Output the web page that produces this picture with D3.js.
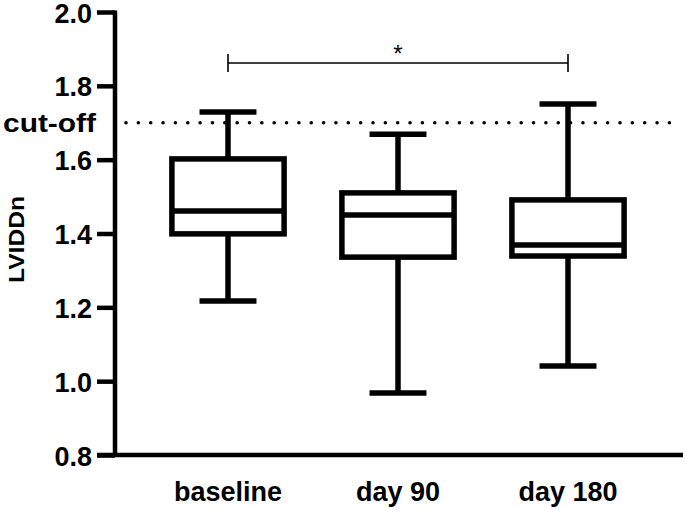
<!DOCTYPE html>
<html>
<head>
<meta charset="utf-8">
<script src="https://cdn.jsdelivr.net/npm/d3@7"></script>
<style>
  html, body { margin: 0; padding: 0; background: #fff; }
  svg { display: block; }
  text { font-family: "Liberation Sans", Arial, sans-serif; }
</style>
</head>
<body>
<div id="chart"></div>
<script>
// ---- data ----
const categories = ["baseline", "day 90", "day 180"];
const whiskerMin = [1.217, 0.968, 1.041];
const q1         = [1.399, 1.336, 1.339];
const median     = [1.461, 1.450, 1.369];
const q3         = [1.602, 1.510, 1.491];
const whiskerMax = [1.729, 1.669, 1.751];
const yTicks = [0.8, 1.0, 1.2, 1.4, 1.6, 1.8, 2.0];
const cutoffValue = 1.70;
const cutoffLabel = "cut-off";
const sigPair = ["baseline", "day 180"];
const sigValue = 1.862;
const sigLabel = "*";
const yLabel = "LVIDDn";

// ---- layout ----
const W = 685, H = 510;
const svg = d3.select("#chart").append("svg").attr("width", W).attr("height", H);

const y = d3.scaleLinear().domain([0.8, 2.0]).range([455, 12]);
const x = d3.scaleBand().domain(categories).range([143, 653]).padding(0);
const cx = c => x(c) + x.bandwidth() / 2;
const boxW = x.bandwidth() * 0.66;
const capW = x.bandwidth() * 0.335;

// x axis line
svg.append("line")
  .attr("x1", 97).attr("x2", 683)
  .attr("y1", y(0.8)).attr("y2", y(0.8))
  .attr("stroke", "#000").attr("stroke-width", 4.5);

// y axis
const yAxis = d3.axisLeft(y).tickValues(yTicks).tickFormat(d3.format(".1f"))
  .tickSize(18).tickSizeOuter(0).tickPadding(5);
const gy = svg.append("g").attr("transform", "translate(115,0)").call(yAxis);
gy.select(".domain").attr("stroke", "#000").attr("stroke-width", 4.5)
  .attr("d", `M0,${y(2.0) - 1.5}V${y(0.8) + 2}`);
gy.selectAll(".tick line").attr("stroke", "#000").attr("stroke-width", 4.5);
gy.selectAll(".tick text").attr("fill", "#000")
  .style("font-size", "27px").style("font-weight", "bold")
  .style("font-family", "'Liberation Sans', Arial, sans-serif")
  .attr("dy", "0.37em");

// y label
svg.append("text")
  .attr("transform", `translate(24,${(y(0.8) + y(2.0)) / 2 + 6}) rotate(-90)`)
  .attr("text-anchor", "middle")
  .attr("textLength", 87).attr("lengthAdjust", "spacingAndGlyphs")
  .style("font-size", "22px").style("font-weight", "bold")
  .text(yLabel);

// x labels
svg.selectAll(".xlab").data(categories).join("text")
  .attr("class", "xlab")
  .attr("x", d => cx(d)).attr("y", 501)
  .attr("text-anchor", "middle")
  .style("font-size", "27px").style("font-weight", "bold")
  .text(d => d);

// cut-off dotted line
svg.append("line")
  .attr("x1", 126).attr("x2", 672)
  .attr("y1", y(cutoffValue)).attr("y2", y(cutoffValue))
  .attr("stroke", "#000").attr("stroke-width", 3.6)
  .attr("stroke-linecap", "round")
  .attr("stroke-dasharray", "0 12.35");
svg.append("text")
  .attr("x", 3).attr("y", y(cutoffValue) + 9)
  .attr("text-anchor", "start")
  .attr("textLength", 93).attr("lengthAdjust", "spacingAndGlyphs")
  .style("font-size", "26px").style("font-weight", "bold")
  .text(cutoffLabel);

// boxes
const stroke = 5.5;
const groups = svg.selectAll(".box").data(categories).join("g").attr("class", "box");
groups.each(function(c, i) {
  const g = d3.select(this);
  const xc = cx(c);
  g.append("line").attr("x1", xc).attr("x2", xc)
    .attr("y1", y(q3[i])).attr("y2", y(whiskerMax[i]))
    .attr("stroke", "#000").attr("stroke-width", stroke);
  g.append("line").attr("x1", xc).attr("x2", xc)
    .attr("y1", y(q1[i])).attr("y2", y(whiskerMin[i]))
    .attr("stroke", "#000").attr("stroke-width", stroke);
  [whiskerMax[i], whiskerMin[i]].forEach(v => {
    g.append("line").attr("x1", xc - capW / 2).attr("x2", xc + capW / 2)
      .attr("y1", y(v)).attr("y2", y(v))
      .attr("stroke", "#000").attr("stroke-width", stroke);
  });
  g.append("rect")
    .attr("x", xc - boxW / 2).attr("width", boxW)
    .attr("y", y(q3[i])).attr("height", y(q1[i]) - y(q3[i]))
    .attr("fill", "#fff").attr("stroke", "#000").attr("stroke-width", stroke);
  g.append("line").attr("x1", xc - boxW / 2).attr("x2", xc + boxW / 2)
    .attr("y1", y(median[i])).attr("y2", y(median[i]))
    .attr("stroke", "#000").attr("stroke-width", stroke);
});

// significance bracket
const sx1 = cx(sigPair[0]), sx2 = cx(sigPair[1]), sy = y(sigValue);
svg.append("path")
  .attr("d", `M${sx1},${sy - 9}V${sy + 9}M${sx1},${sy}H${sx2}M${sx2},${sy - 9}V${sy + 9}`)
  .attr("fill", "none").attr("stroke", "#000").attr("stroke-width", 1.6);
svg.append("text")
  .attr("x", (sx1 + sx2) / 2).attr("y", sy - 1)
  .attr("text-anchor", "middle")
  .style("font-size", "24px")
  .text(sigLabel);
</script>
</body>
</html>
